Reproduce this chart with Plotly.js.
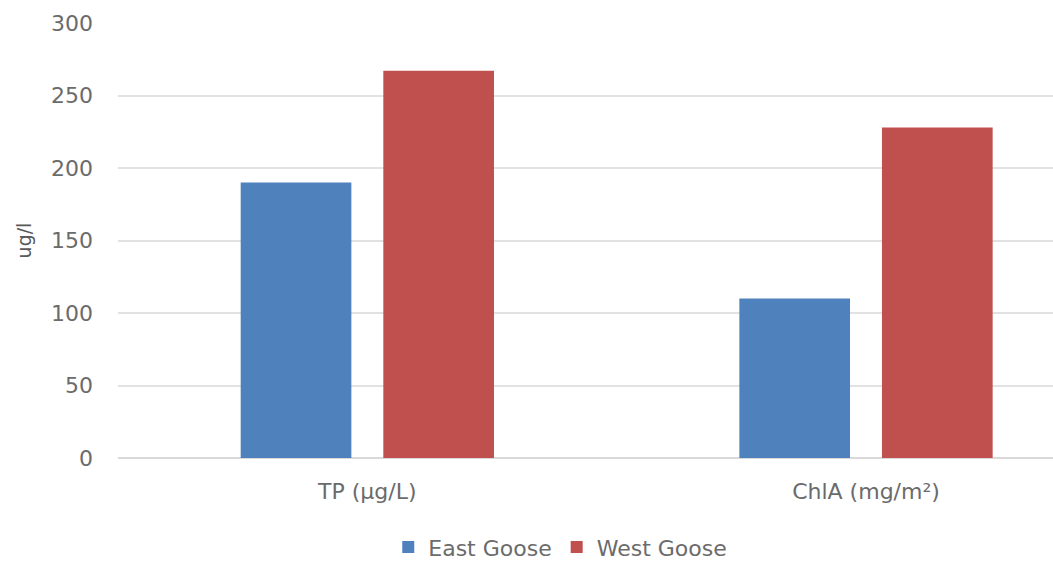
<!DOCTYPE html>
<html>
<head>
<meta charset="utf-8">
<script src="https://cdn.plot.ly/plotly-3.0.1.min.js"></script>
<style>html,body{margin:0;padding:0;background:#fff;}#chart{width:1053px;height:562px;}</style>
</head>
<body>
<div id="chart"></div>
<script>
var categories = ["TP (µg/L)", "ChlA (mg/m²)"];
var eastGoose = [190, 110];
var westGoose = [267, 228];
var seriesNames = ["East Goose", "West Goose"];
var yTicks = [0, 50, 100, 150, 200, 250, 300];

var font = "'DejaVu Sans', 'Open Sans', sans-serif";

var data = [
  {type: "bar", name: seriesNames[0], x: categories, y: eastGoose,
   marker: {color: "#4F81BD"}},
  {type: "bar", name: seriesNames[1], x: categories, y: westGoose,
   marker: {color: "#C0504D"}}
];

var layout = {
  width: 1053, height: 562,
  margin: {l: 118, r: 0, t: 23, b: 104, autoexpand: false},
  paper_bgcolor: "#ffffff", plot_bgcolor: "#ffffff",
  font: {family: font, color: "#6b6b6b", size: 22},
  barmode: "group",
  bargap: 0.428,
  bargroupgap: 0.224,
  showlegend: true,
  legend: {orientation: "h", x: 0.473, xanchor: "center", y: -0.205, yanchor: "middle",
           font: {size: 22, color: "#6b6b6b"}, itemwidth: 30, traceorder: "normal"},
  xaxis: {type: "category", range: [-0.5, 1.375], showgrid: false, zeroline: false,
          showline: false, ticks: "", tickfont: {size: 22, color: "#6b6b6b"}, ticklabelstandoff: 18,
          automargin: false},
  yaxis: {range: [0, 300], tickvals: yTicks, ticktext: yTicks.map(String),
          showgrid: true, gridcolor: "#e2e2e2", gridwidth: 2, zeroline: true,
          zerolinecolor: "#d9d9d9", zerolinewidth: 2, showline: false, automargin: false,
          ticks: "", ticklabelstandoff: 24, tickfont: {size: 22, color: "#6b6b6b"},
          title: {text: "ug/l", font: {size: 19, color: "#5a5a5a"}, standoff: 14}}
};

Plotly.newPlot("chart", data, layout, {displayModeBar: false, staticPlot: true});
</script>
</body>
</html>
